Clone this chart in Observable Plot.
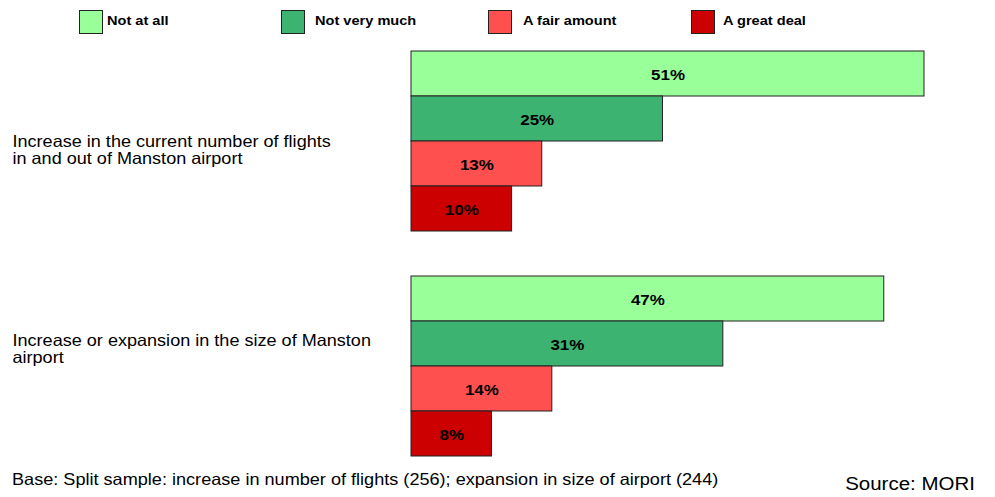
<!DOCTYPE html>
<html>
<head>
<meta charset="utf-8">
<script src="https://cdn.jsdelivr.net/npm/d3@7"></script>
<script src="https://cdn.jsdelivr.net/npm/@observablehq/plot@0.6"></script>
<style>
  html, body { margin: 0; padding: 0; background: #fff; }
  body { width: 995px; height: 497px; position: relative; overflow: hidden; font-family: "Liberation Sans", Arial, sans-serif; }
  #legend { position: relative; height: 44px; }
  .sw { position: absolute; top: 10px; width: 22px; height: 22px; border: 1px solid #222; box-sizing: content-box; }
  .lt { position: absolute; top: 13px; font-size: 13.5px; font-weight: bold; color: #000; white-space: nowrap; transform: scaleX(1.08); transform-origin: left center; }
  #chart svg { display: block; }
  #footer { position: absolute; top: 470px; left: 0; width: 995px; height: 27px; }
  #base { position: absolute; left: 12px; top: 0px; font-size: 16.5px; white-space: nowrap; transform: scaleX(1.097); transform-origin: left center; }
  #source { position: absolute; right: 20px; top: 4px; font-size: 17.5px; white-space: nowrap; transform: scaleX(1.17); transform-origin: right center; }
</style>
</head>
<body>
<div id="legend"></div>
<div id="chart"></div>
<div id="footer"><span id="base"></span><span id="source"></span></div>
<script>
// ---- data ----
const categories = [
  "Increase in the current number of flights\nin and out of Manston airport",
  "Increase or expansion in the size of Manston\nairport"
];
const responses = ["Not at all", "Not very much", "A fair amount", "A great deal"];
const flightsValues = [51, 25, 13, 10];
const expansionValues = [47, 31, 14, 8];
const colors = ["#99FF99", "#3CB371", "#FF5050", "#CC0000"];
const baseText = "Base: Split sample: increase in number of flights (256); expansion in size of airport (244)";
const sourceText = "Source: MORI";

// ---- layout ----
const legendSwatchX = [79, 281, 488, 691];
const legendTextX = [107, 315, 523, 723];

// legend
const legend = document.getElementById("legend");
responses.forEach((r, i) => {
  const s = document.createElement("div");
  s.className = "sw";
  s.style.left = legendSwatchX[i] + "px";
  s.style.background = colors[i];
  legend.appendChild(s);
  const t = document.createElement("div");
  t.className = "lt";
  t.style.left = legendTextX[i] + "px";
  t.textContent = r;
  legend.appendChild(t);
});

// rows
const seriesValues = [flightsValues, expansionValues];
const rows = [];
const yDomain = [];
categories.forEach((c, i) => {
  if (i > 0) yDomain.push("gap" + i);
  responses.forEach((r, j) => {
    const key = i + "|" + r;
    yDomain.push(key);
    rows.push({key, category: c, response: r, value: seriesValues[i][j]});
  });
});

const chart = Plot.plot({
  width: 995,
  height: 420,
  marginLeft: 411,
  marginRight: 71,
  marginTop: 5,
  marginBottom: 6,
  style: {fontFamily: "'Liberation Sans', Arial, sans-serif", background: "#fff"},
  x: {domain: [0, 51], axis: null},
  y: {domain: yDomain, padding: 0, axis: null},
  color: {domain: responses, range: colors},
  marks: [
    Plot.barX(rows, {x: "value", y: "key", fill: "response", stroke: "#222", strokeWidth: 1}),
    Plot.text(rows, {x: d => d.value / 2, y: "key", text: d => d.value + "%", fontSize: 15.5, fontWeight: "bold", fill: "#000", dy: 1}),
    Plot.text([categories[0]], {y: () => "0|" + responses[1], text: d => d, frameAnchor: "left", dx: -399, dy: 31, textAnchor: "start", lineAnchor: "middle", lineHeight: 1.0, fontSize: 16.5, fill: "#000"}),
    Plot.text([categories[1]], {y: () => "1|" + responses[1], text: d => d, frameAnchor: "left", dx: -399, dy: 5, textAnchor: "start", lineAnchor: "middle", lineHeight: 1.0, fontSize: 16.5, fill: "#000"})
  ]
});
// widen glyphs horizontally to match the reference's stretched type
chart.querySelectorAll("text").forEach(t => {
  const tr = t.getAttribute("transform") || "";
  t.setAttribute("transform", tr + " scale(1.095,1)");
});
document.getElementById("chart").appendChild(chart);
document.getElementById("base").textContent = baseText;
document.getElementById("source").textContent = sourceText;
</script>
</body>
</html>
